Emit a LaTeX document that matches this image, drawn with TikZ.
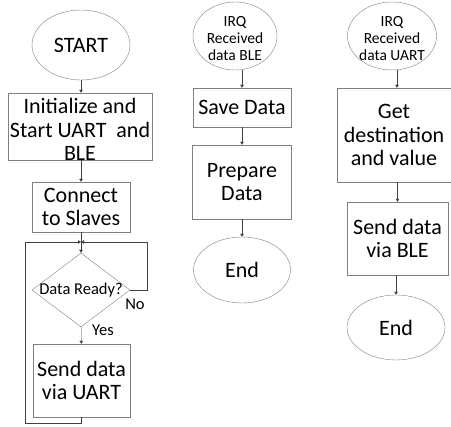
\documentclass[tikz,border=0pt]{standalone}
\usepackage{fontspec}
\setmainfont{Carlito}
\usepackage{tikz}
\usetikzlibrary{shapes.geometric,arrows.meta}

\begin{document}
\begin{tikzpicture}[x=1pt,y=-1pt,
  big/.style={font=\fontsize{22}{23.5}\selectfont, align=center},
  small/.style={font=\fontsize{15.5}{17}\selectfont, align=center},
  term/.style={ellipse, draw=gray, inner sep=0pt},
  proc/.style={rectangle, draw=gray, inner sep=0pt},
  decide/.style={diamond, draw=gray, inner sep=0pt},
  flow/.style={draw=black!75, -{Triangle[length=3pt,width=3.5pt]}},
  ]
\useasboundingbox (0,0) rectangle (451,427);

% main loop
\draw (81,45) node[term, big, minimum width=98, minimum height=70] (start) {START} ;
\draw (80,126.5) node[proc, minimum width=144, minimum height=67] (init) {} ;
\draw (init.center) ++(0,3) node[big] (inittext) {Initialize and\\Start UART\ \ and\\BLE} ;
\draw (81,207) node[proc, big, minimum width=98, minimum height=50] (conn) {Connect\\to Slaves} ;
\coordinate (join) at (81,242) ;
\draw (81,290) node[decide, minimum width=98, minimum height=74] (ready) {} ;
\draw (ready.center) node[small, font=\fontsize{16.5}{18}\selectfont] (readytext) {Data Ready?} ;
\draw (81.5,380.5) node[proc, big, minimum width=97, minimum height=73] (send) {Send data\\via UART} ;
\coordinate (loopL) at (25,423) ;
\coordinate (loopR) at (147,242) ;
\draw (135,304) node[small, font=\fontsize{16.5}{18}\selectfont] (no) {No} ;
\draw (103,330) node[small, font=\fontsize{16.5}{18}\selectfont] (yes) {Yes} ;

% BLE interrupt
\draw (235,36) node[term, minimum width=84, minimum height=68] (irqble) {} ;
\draw (irqble.center) ++(0,3) node[small] (irqbletext) {IRQ\\Received\\data BLE} ;
\draw (242,107.5) node[proc, big, minimum width=98, minimum height=39] (save) {Save Data} ;
\draw (242,182) node[proc, big, minimum width=99, minimum height=74] (prep) {Prepare\\Data} ;
\draw (242,270) node[term, big, minimum width=97, minimum height=66] (endble) {End} ;

% UART interrupt
\draw (392,36) node[term, minimum width=89, minimum height=68] (irquart) {} ;
\draw (irquart.center) ++(0,3) node[small] (irquarttext) {IRQ\\Received\\data UART} ;
\draw (394,135) node[proc, big, minimum width=114, minimum height=94] (dest) {Get\\destination\\and value} ;
\draw (397.5,238.5) node[proc, big, minimum width=101, minimum height=73] (sendble) {Send data\\via BLE} ;
\draw (396,327.5) node[term, big, minimum width=98, minimum height=65] (enduart) {End} ;

\draw[flow]
     (start) to (start.south |- init.north) ;
\draw[flow]
     (init.south -| conn.north) to (conn) ;
\draw[draw=black!75]
     (conn) to (join) ;
\draw[flow]
     (ready.east) -| (loopR) -- (join) ;
\draw[flow]
     (send.south) -- (send.south |- loopL) -- (loopL) |- (join) ;
\draw[flow]
     (join) to (ready) ;
\draw[flow]
     (ready) to (send) ;

\draw[flow] (irqble.south -| save.north) to (save) ;
\draw[flow] (save) to (prep) ;
\draw[flow] (prep) to (endble) ;

\draw[flow] (irquart.south -| 397,0) to (dest.north -| 397,0) ;
\draw[flow] (dest.south -| sendble.north) to (sendble) ;
\draw[flow] (sendble.south -| enduart.north) to (enduart) ;
\end{tikzpicture}
\end{document}
